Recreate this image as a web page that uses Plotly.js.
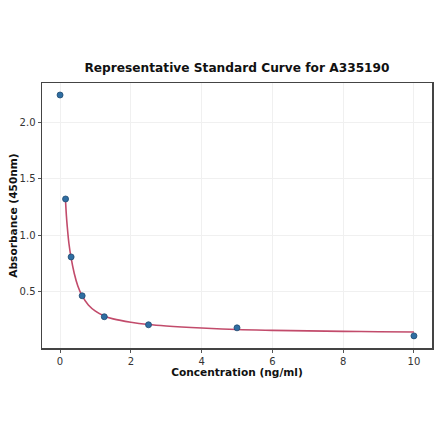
<!DOCTYPE html>
<html><head><meta charset="utf-8">
<script src="https://cdn.plot.ly/plotly-3.0.1.min.js"></script>
<style>html,body{margin:0;padding:0;background:#fff;}#chart{width:440px;height:441px;}</style>
</head><body><div id="chart"></div>
<script>
const concentrations = [0, 0.156, 0.3125, 0.625, 1.25, 2.5, 5, 10];
const absorbance = [2.239, 1.321, 0.809, 0.466, 0.281, 0.21, 0.183, 0.112];
const fitX = [0.156, 0.18, 0.2, 0.25, 0.3125, 0.4, 0.5, 0.625, 0.8, 1.0, 1.25, 1.5, 2.0, 2.5, 3, 4, 5, 6, 7, 8, 9, 10];
const fitY = [1.30, 1.17, 1.09, 0.93, 0.80, 0.665, 0.555, 0.465, 0.385, 0.33, 0.287, 0.262, 0.232, 0.212, 0.199, 0.181, 0.168, 0.161, 0.156, 0.152, 0.149, 0.146];
const xTicks = [0, 2, 4, 6, 8, 10];
const yTicks = [0.5, 1.0, 1.5, 2.0];

const data = [
  {x: fitX, y: fitY, mode: 'lines', type: 'scatter', line: {color: '#c24b6b', width: 1.6, shape: 'spline'}, hoverinfo: 'skip'},
  {x: concentrations, y: absorbance, mode: 'markers', type: 'scatter',
   marker: {color: '#2f6ea3', size: 6, line: {color: '#1f4a70', width: 0.8}}}
];
const font = {family: 'DejaVu Sans, sans-serif', color: '#222'};
const layout = {
  width: 440, height: 441,
  margin: {l: 42, r: 8, t: 83, b: 93},
  paper_bgcolor: '#fff', plot_bgcolor: '#fff',
  showlegend: false,
  font: font,
  title: {text: '<b>Representative Standard Curve for A335190</b>', x: 0.5, xref: 'paper', xanchor: 'center',
          y: 1 - 68/441, yref: 'container', yanchor: 'middle',
          font: {family: 'DejaVu Sans, sans-serif', size: 12.2, color: '#111'}},
  xaxis: {range: [-0.51, 10.51], tickvals: xTicks, ticktext: xTicks.map(String),
          showgrid: true, gridcolor: '#f0f0f0', gridwidth: 1, zeroline: false,
          showline: true, linecolor: '#444', linewidth: 1.5, mirror: true,
          ticks: 'outside', ticklen: 3, tickcolor: '#555', tickfont: {size: 10, color: '#333'},
          title: {text: '<b>Concentration (ng/ml)</b>', font: {size: 10.6, color: '#111'}, standoff: 1}},
  yaxis: {range: [0.005, 2.345], tickvals: yTicks, ticktext: yTicks.map(v => v.toFixed(1)),
          showgrid: true, gridcolor: '#f0f0f0', gridwidth: 1, zeroline: false,
          showline: true, linecolor: '#444', linewidth: 1.5, mirror: true,
          ticks: 'outside', ticklen: 3, tickcolor: '#555', tickfont: {size: 10, color: '#333'},
          title: {text: '<b>Absorbance (450nm)</b>', font: {size: 10.6, color: '#111'}, standoff: 0}}
};
Plotly.newPlot('chart', data, layout, {displayModeBar: false, staticPlot: true});
</script></body></html>
